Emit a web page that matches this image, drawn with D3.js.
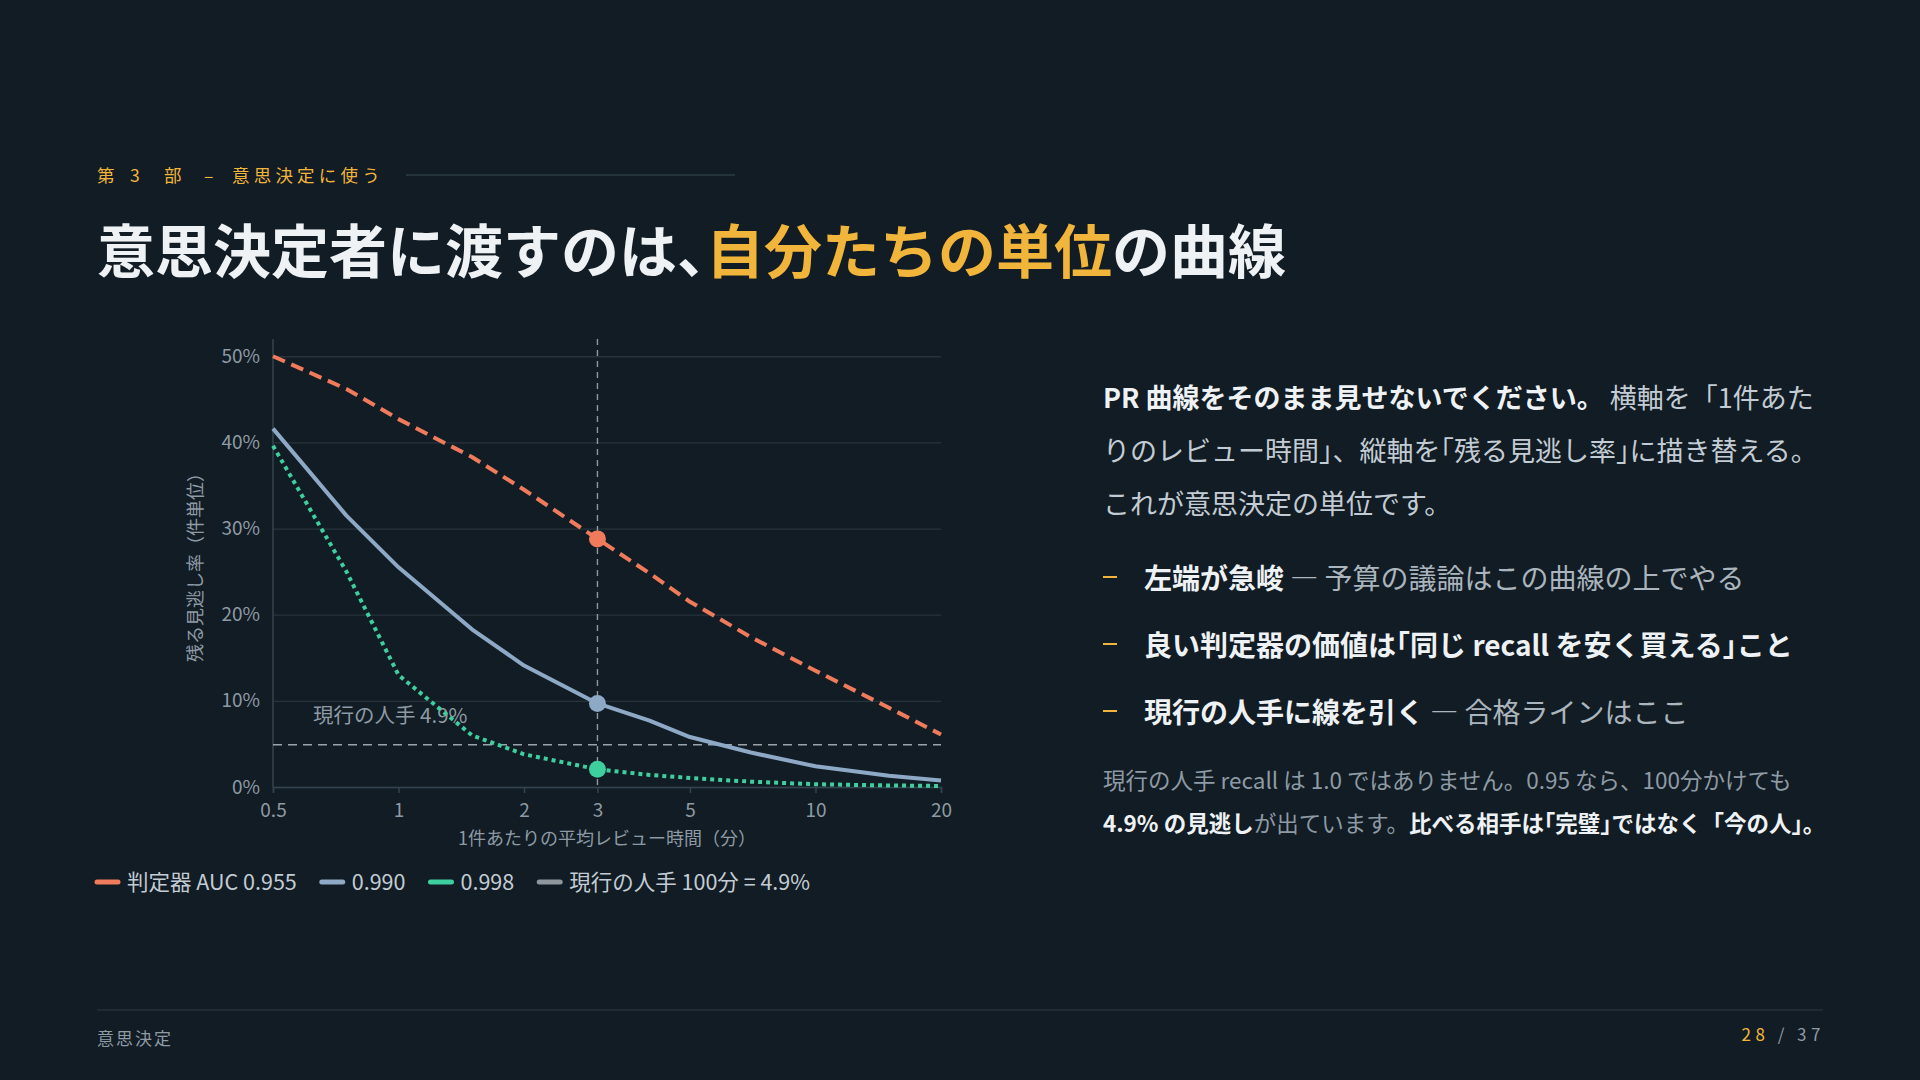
<!DOCTYPE html>
<html lang="ja">
<head>
<meta charset="utf-8">
<title>意思決定者に渡すのは、自分たちの単位の曲線</title>
<script src="https://cdn.jsdelivr.net/npm/d3@7"></script>
<style>
  html, body { margin: 0; padding: 0; background: #121c24; }
  svg { display: block; font-family: "Noto Sans CJK JP", "Noto Sans", sans-serif; }
  .half { font-feature-settings: "halt" 1; }
</style>
</head>
<body>
<div id="slide"></div>
<script>
//==============================
// DATA
//==============================
// review minutes per item (x, log scale)
const minutes = [0.5, 0.75, 1, 1.5, 2, 3, 4, 5, 7, 10, 15, 20];
// remaining miss rate (%) for each classifier
const missAuc955 = [50.0, 46.2, 42.7, 38.3, 34.5, 28.8, 24.8, 21.5, 17.4, 13.5, 9.2, 6.1];
const missAuc990 = [41.6, 31.5, 25.5, 18.3, 14.1, 9.7, 7.7, 5.8, 4.0, 2.4, 1.3, 0.75];
const missAuc998 = [39.6, 25.0, 13.0, 6.0, 3.8, 2.05, 1.4, 1.05, 0.62, 0.32, 0.18, 0.12];
const seriesNames = ["判定器 AUC 0.955", "0.990", "0.998"];
// current human review: 100 min gives 4.9% miss
const humanMiss = 4.9;
const humanLabel = "現行の人手 4.9%";
const humanLegend = "現行の人手 100分 = 4.9%";
const focusMinute = 3;
// ticks
const xTicks = [0.5, 1, 2, 3, 5, 10, 20];
const yTicks = [0, 10, 20, 30, 40, 50];

//==============================
// COLOURS
//==============================
const gold = "#f2b53c",
    white = "#eef2f5",
    soft = "#c3ccd4",
    muted = "#8e9aa4",
    grid = "#26333d";
const seriesColors = ["#ef7b5c", "#8ea9c6", "#3ecf9f"];
const seriesDash = ["13 7", null, "4 4"];

const W = 1920, H = 1080;
const svg = d3.select("#slide").append("svg")
    .attr("width", W)
    .attr("height", H);

svg.append("rect").attr("width", W).attr("height", H).attr("fill", "#121c24");

// append runs of [text, bold, colour]; a "^" before a character sets
// that character half-width (halt), like the brackets in the slide
const addRuns = (textSel, parts) => {
    parts.forEach(([str, bold, color]) => {
        const bits = str.split("^");
        bits.forEach((seg, k) => {
            if (!seg) return;
            const pieces = k > 0 ? [[seg[0], true], [seg.slice(1), false]] : [[seg, false]];
            pieces.forEach(([txt, half]) => {
                if (!txt) return;
                textSel.append("tspan")
                    .classed("half", half)
                    .attr("fill", color)
                    .style("font-weight", bold ? 700 : 400)
                    .text(txt);
            });
        });
    });
};

//==============================
// HEADER
//==============================
const kicker = svg.append("text")
    .attr("y", 182)
    .attr("fill", gold)
    .style("font-size", "17.5px");
kicker.append("tspan").attr("x", 97).text("第");
kicker.append("tspan").attr("x", 130).text("3");
kicker.append("tspan").attr("x", 164).text("部");
kicker.append("tspan").attr("x", 204).text("–");
kicker.append("tspan").attr("x", 232).style("letter-spacing", "4.2px").text("意思決定に使う");

svg.append("line")
    .attr("x1", 406).attr("x2", 735)
    .attr("y1", 175).attr("y2", 175)
    .attr("stroke", "#2c3b46").attr("stroke-width", 1.5);

const title = svg.append("text")
    .attr("x", 97).attr("y", 273)
    .attr("fill", white)
    .style("font-size", "58px")
    .style("font-weight", 700);
title.append("tspan").text("意思決定者に渡すのは");
title.append("tspan").classed("half", true).text("、");
title.append("tspan").attr("fill", gold).text("自分たちの単位");
title.append("tspan").text("の曲線");

//==============================
// CHART
//==============================
const plot = { left: 273, right: 941, top: 339, bottom: 787 };

const x = d3.scaleLog()
    .domain([0.5, 20])
    .range([plot.left, plot.right]);
const y = d3.scaleLinear()
    .domain([0, 52])
    .range([plot.bottom, plot.top]);

const chart = svg.append("g");

// y grid + labels
const yAxis = chart.append("g")
    .attr("transform", `translate(${plot.left},0)`)
    .call(d3.axisLeft(y)
        .tickValues(yTicks)
        .tickSize(-(plot.right - plot.left))
        .tickPadding(13)
        .tickFormat(d => d + "%"));
yAxis.select(".domain").remove();
yAxis.selectAll(".tick line").attr("stroke", grid).attr("stroke-width", 1.3);
yAxis.selectAll(".tick text")
    .attr("fill", muted)
    .style("font-size", "19px")
    .style("font-family", "\"Noto Sans CJK JP\", sans-serif");

// x axis
const xAxis = chart.append("g")
    .attr("transform", `translate(0,${plot.bottom})`)
    .call(d3.axisBottom(x)
        .tickValues(xTicks)
        .tickSize(6)
        .tickPadding(11)
        .tickFormat(d => d));
xAxis.select(".domain").attr("stroke", "#34434e").attr("stroke-width", 1.5);
xAxis.selectAll(".tick line").attr("stroke", "#34434e").attr("stroke-width", 1.5);
xAxis.selectAll(".tick text")
    .attr("fill", muted)
    .style("font-size", "19px")
    .style("font-family", "\"Noto Sans CJK JP\", sans-serif");

// left axis line
chart.append("line")
    .attr("x1", plot.left).attr("x2", plot.left)
    .attr("y1", plot.top).attr("y2", plot.bottom)
    .attr("stroke", "#34434e").attr("stroke-width", 1.5);

// axis titles
chart.append("text")
    .attr("x", (plot.left + plot.right) / 2 + 0)
    .attr("y", 845)
    .attr("text-anchor", "middle")
    .attr("fill", muted)
    .style("font-size", "18px")
    .text("1件あたりの平均レビュー時間（分）");

chart.append("text")
    .attr("transform", `translate(202,${(plot.top + plot.bottom) / 2}) rotate(-90)`)
    .attr("text-anchor", "middle")
    .attr("fill", muted)
    .style("font-size", "18px")
    .text("残る見逃し率（件単位）");

// vertical focus line at 3 min
chart.append("line")
    .attr("x1", x(focusMinute)).attr("x2", x(focusMinute))
    .attr("y1", plot.top).attr("y2", plot.bottom)
    .attr("stroke", "#8d98a2").attr("stroke-width", 1.4)
    .attr("stroke-dasharray", "6 5");

// human baseline
chart.append("line")
    .attr("x1", plot.left).attr("x2", plot.right)
    .attr("y1", y(humanMiss)).attr("y2", y(humanMiss))
    .attr("stroke", "#9aa3aa").attr("stroke-width", 1.6)
    .attr("stroke-dasharray", "9 6");

chart.append("text")
    .attr("x", 313).attr("y", y(humanMiss) - 22)
    .attr("fill", muted)
    .style("font-size", "20.5px")
    .text(humanLabel);

// series
const series = [missAuc955, missAuc990, missAuc998].map((vals, i) => ({
    name: seriesNames[i],
    color: seriesColors[i],
    dash: seriesDash[i],
    points: minutes.map((m, j) => ({ m: m, v: vals[j] }))
}));

const line = d3.line()
    .x(d => x(d.m))
    .y(d => y(d.v));

series.forEach(s => {
    chart.append("path")
        .datum(s.points)
        .attr("fill", "none")
        .attr("stroke", s.color)
        .attr("stroke-width", 4)
        .attr("stroke-linejoin", "round")
        .attr("stroke-dasharray", s.dash)
        .attr("d", line);
});

// markers at the focus minute
series.forEach(s => {
    const p = s.points.find(d => d.m === focusMinute);
    chart.append("circle")
        .attr("cx", x(p.m))
        .attr("cy", y(p.v))
        .attr("r", 8.5)
        .attr("fill", s.color);
});

//==============================
// LEGEND
//==============================
const legendItems = series.map(s => ({ name: s.name, color: s.color }))
    .concat([{ name: humanLegend, color: "#8e979e" }]);
const legend = svg.append("g").attr("transform", "translate(97,882)");
let lx = 0;
legendItems.forEach(item => {
    legend.append("line")
        .attr("x1", lx).attr("x2", lx + 21)
        .attr("y1", 0).attr("y2", 0)
        .attr("stroke", item.color)
        .attr("stroke-width", 5)
        .attr("stroke-linecap", "round");
    const t = legend.append("text")
        .attr("x", lx + 30).attr("y", 7.5)
        .attr("fill", soft)
        .style("font-size", "21.5px")
        .text(item.name);
    lx += 30 + t.node().getComputedTextLength() + 25;
});

//==============================
// RIGHT TEXT BLOCK
//==============================
const tx = 1103;
const para = [
    [["PR 曲線をそのまま見せないでください。", true, white], [" 横軸を「1件あた", false, soft]],
    [["りのレビュー時間」、縦軸を^「残る見逃し率^」に描き替える。", false, soft]],
    [["これが意思決定の単位です。", false, soft]]
];
para.forEach((parts, i) => {
    const t = svg.append("text")
        .attr("x", tx).attr("y", 408 + i * 53)
        .style("font-size", "27px");
    addRuns(t, parts);
});

const bullets = [
    [["左端が急峻", true, white], [" — 予算の議論はこの曲線の上でやる", false, "#aab5be"]],
    [["良い判定器の価値は^「同じ recall を安く買える^」こと", true, white]],
    [["現行の人手に線を引く", true, white], [" — 合格ラインはここ", false, "#aab5be"]]
];
bullets.forEach((parts, i) => {
    const by = 589 + i * 67;
    svg.append("line")
        .attr("x1", tx).attr("x2", tx + 14)
        .attr("y1", by - 12).attr("y2", by - 12)
        .attr("stroke", gold).attr("stroke-width", 2);
    const t = svg.append("text")
        .attr("x", 1144).attr("y", by)
        .style("font-size", "28px");
    addRuns(t, parts);
});

const note = [
    [["現行の人手 recall は 1.0 ではありません。0.95 なら、100分かけても", false, muted]],
    [["4.9% の見逃し", true, white], ["が出ています。", false, muted], ["比べる相手は^「完璧^」ではなく「今の人」。", true, white]]
];
note.forEach((parts, i) => {
    const t = svg.append("text")
        .attr("x", tx).attr("y", 789 + i * 43)
        .style("font-size", "22.5px");
    addRuns(t, parts);
});

//==============================
// FOOTER
//==============================
svg.append("line")
    .attr("x1", 97).attr("x2", 1823)
    .attr("y1", 1010).attr("y2", 1010)
    .attr("stroke", "#24323c").attr("stroke-width", 1.5);

svg.append("text")
    .attr("x", 97).attr("y", 1045)
    .attr("fill", muted)
    .style("font-size", "17px")
    .style("letter-spacing", "2px")
    .text("意思決定");

const pg = svg.append("text")
    .attr("x", 1825).attr("y", 1041)
    .attr("text-anchor", "end")
    .style("font-size", "17px")
    .style("letter-spacing", "4.5px");
pg.append("tspan").attr("fill", gold).text("28");
pg.append("tspan").attr("fill", muted).text("  /  37");
</script>
</body>
</html>
